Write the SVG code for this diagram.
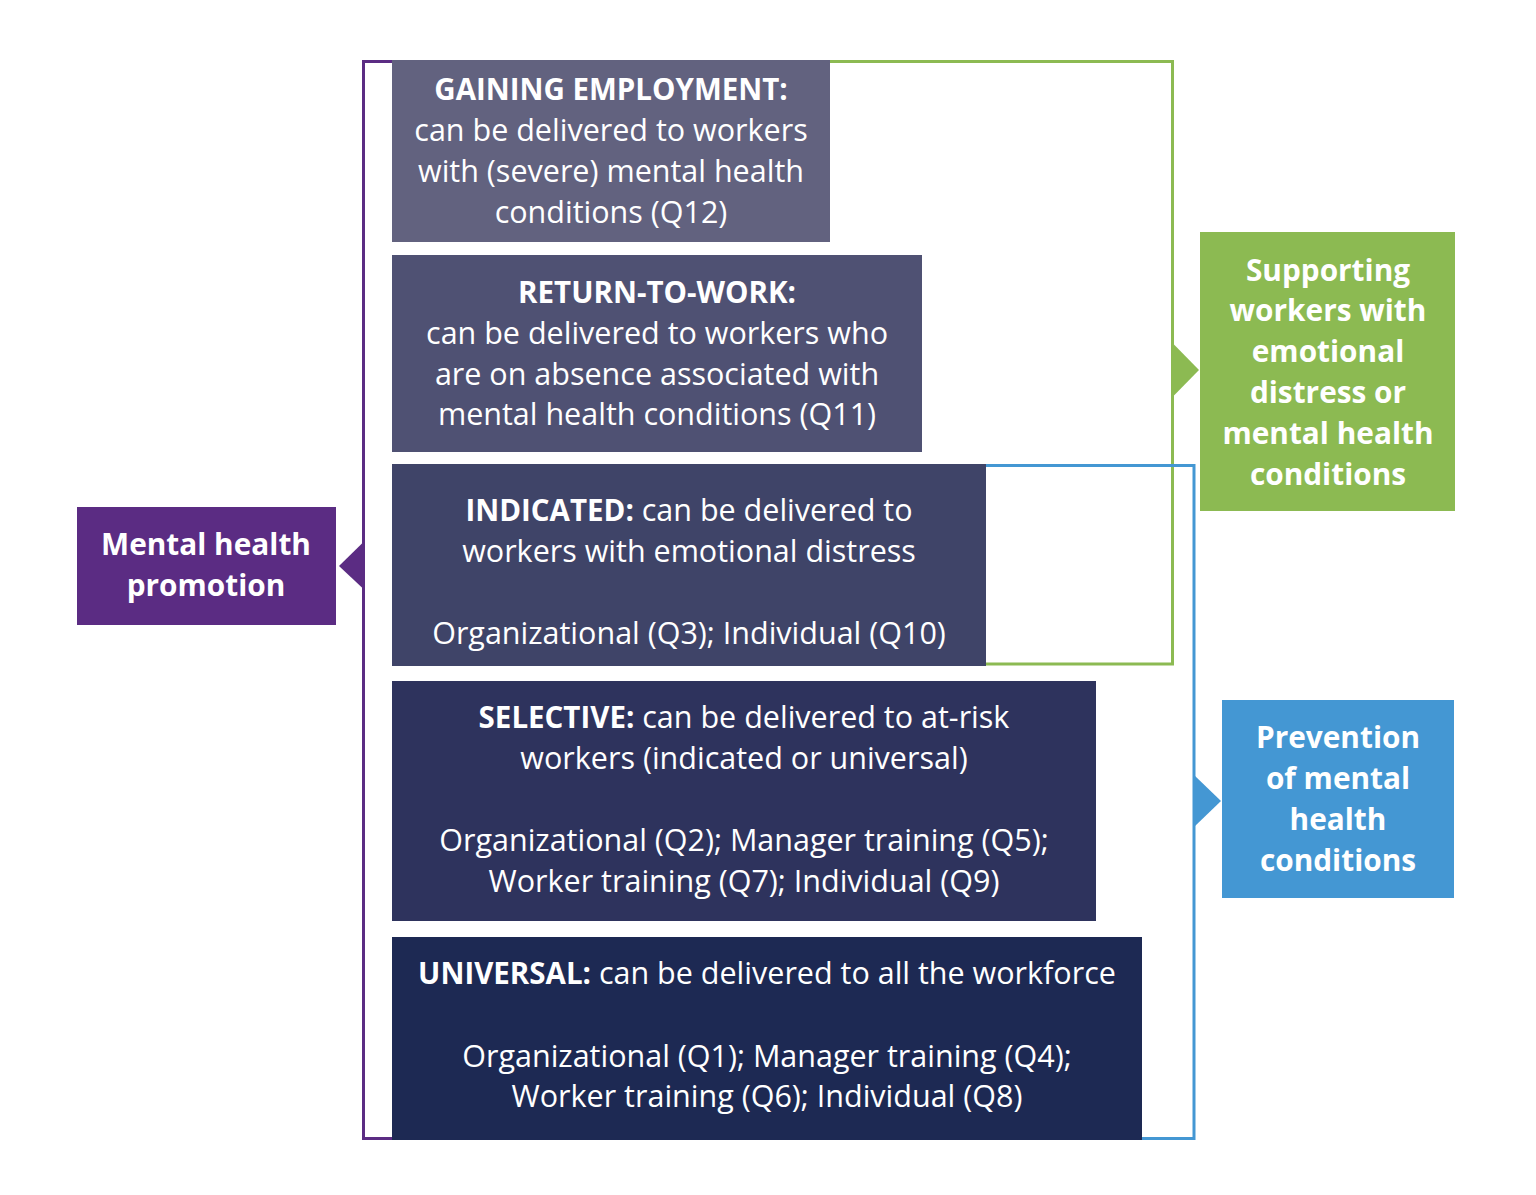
<svg xmlns="http://www.w3.org/2000/svg" width="1536" height="1195" viewBox="0 0 1536 1195">
<style>
text{font-family:"Open Sans","Noto Sans","Liberation Sans",sans-serif;fill:#ffffff;text-anchor:middle;font-size:30.5px}
.b{font-weight:700;font-size:29.5px}
.lab{font-weight:700;font-size:29.8px}
</style>
<rect width="1536" height="1195" fill="#ffffff"/>
<g id="connectors" fill="none" stroke-width="3">
<path d="M392,61.5 H363.5 V1138.5 H392" stroke="#5B2C83"/>
<polygon points="363.5,542 363.5,589 339,566" fill="#5B2C83" stroke="none"/>
<path d="M830,61.5 H1172.5 V664 H986" stroke="#8CBA52"/>
<polygon points="1172.5,343 1172.5,397 1199,370" fill="#8CBA52" stroke="none"/>
<path d="M986,465.5 H1194 V1138.5 H1142" stroke="#4497D3"/>
<polygon points="1194,775 1194,827 1221,801" fill="#4497D3" stroke="none"/>
</g>
<g id="gaining">
<rect x="392" y="60" width="438" height="182" fill="#62627F"/>
<text x="611" y="100" class="b">GAINING EMPLOYMENT:</text>
<text x="611" y="141">can be delivered to workers</text>
<text x="611" y="182">with (severe) mental health</text>
<text x="611" y="223">conditions (Q12)</text>
</g>
<g id="return">
<rect x="392" y="255" width="530" height="197" fill="#4F5173"/>
<text x="657" y="303" class="b">RETURN-TO-WORK:</text>
<text x="657" y="344">can be delivered to workers who</text>
<text x="657" y="385">are on absence associated with</text>
<text x="657" y="425">mental health conditions (Q11)</text>
</g>
<g id="indicated">
<rect x="392" y="464" width="594" height="202" fill="#3F4468"/>
<text x="689" y="521"><tspan class="b">INDICATED:</tspan> can be delivered to</text>
<text x="689" y="562">workers with emotional distress</text>
<text x="689" y="644">Organizational (Q3); Individual (Q10)</text>
</g>
<g id="selective">
<rect x="392" y="681" width="704" height="240" fill="#2E335D"/>
<text x="744" y="728"><tspan class="b">SELECTIVE:</tspan> can be delivered to at-risk</text>
<text x="744" y="769">workers (indicated or universal)</text>
<text x="744" y="851">Organizational (Q2); Manager training (Q5);</text>
<text x="744" y="892">Worker training (Q7); Individual (Q9)</text>
</g>
<g id="universal">
<rect x="392" y="937" width="750" height="203" fill="#1D2953"/>
<text x="767" y="984"><tspan class="b">UNIVERSAL:</tspan> can be delivered to all the workforce</text>
<text x="767" y="1067">Organizational (Q1); Manager training (Q4);</text>
<text x="767" y="1107">Worker training (Q6); Individual (Q8)</text>
</g>
<g id="promotion">
<rect x="77" y="507" width="259" height="118" fill="#5B2C83"/>
<text x="206" y="555" class="lab">Mental health</text>
<text x="206" y="596" class="lab">promotion</text>
</g>
<g id="supporting">
<rect x="1200" y="232" width="255" height="279" fill="#8CBA52"/>
<text x="1328" y="281" class="lab">Supporting</text>
<text x="1328" y="321" class="lab">workers with</text>
<text x="1328" y="362" class="lab">emotional</text>
<text x="1328" y="403" class="lab">distress or</text>
<text x="1328" y="444" class="lab">mental health</text>
<text x="1328" y="485" class="lab">conditions</text>
</g>
<g id="prevention">
<rect x="1222" y="700" width="232" height="198" fill="#4497D3"/>
<text x="1338" y="748" class="lab">Prevention</text>
<text x="1338" y="789" class="lab">of mental</text>
<text x="1338" y="830" class="lab">health</text>
<text x="1338" y="871" class="lab">conditions</text>
</g>
</svg>
